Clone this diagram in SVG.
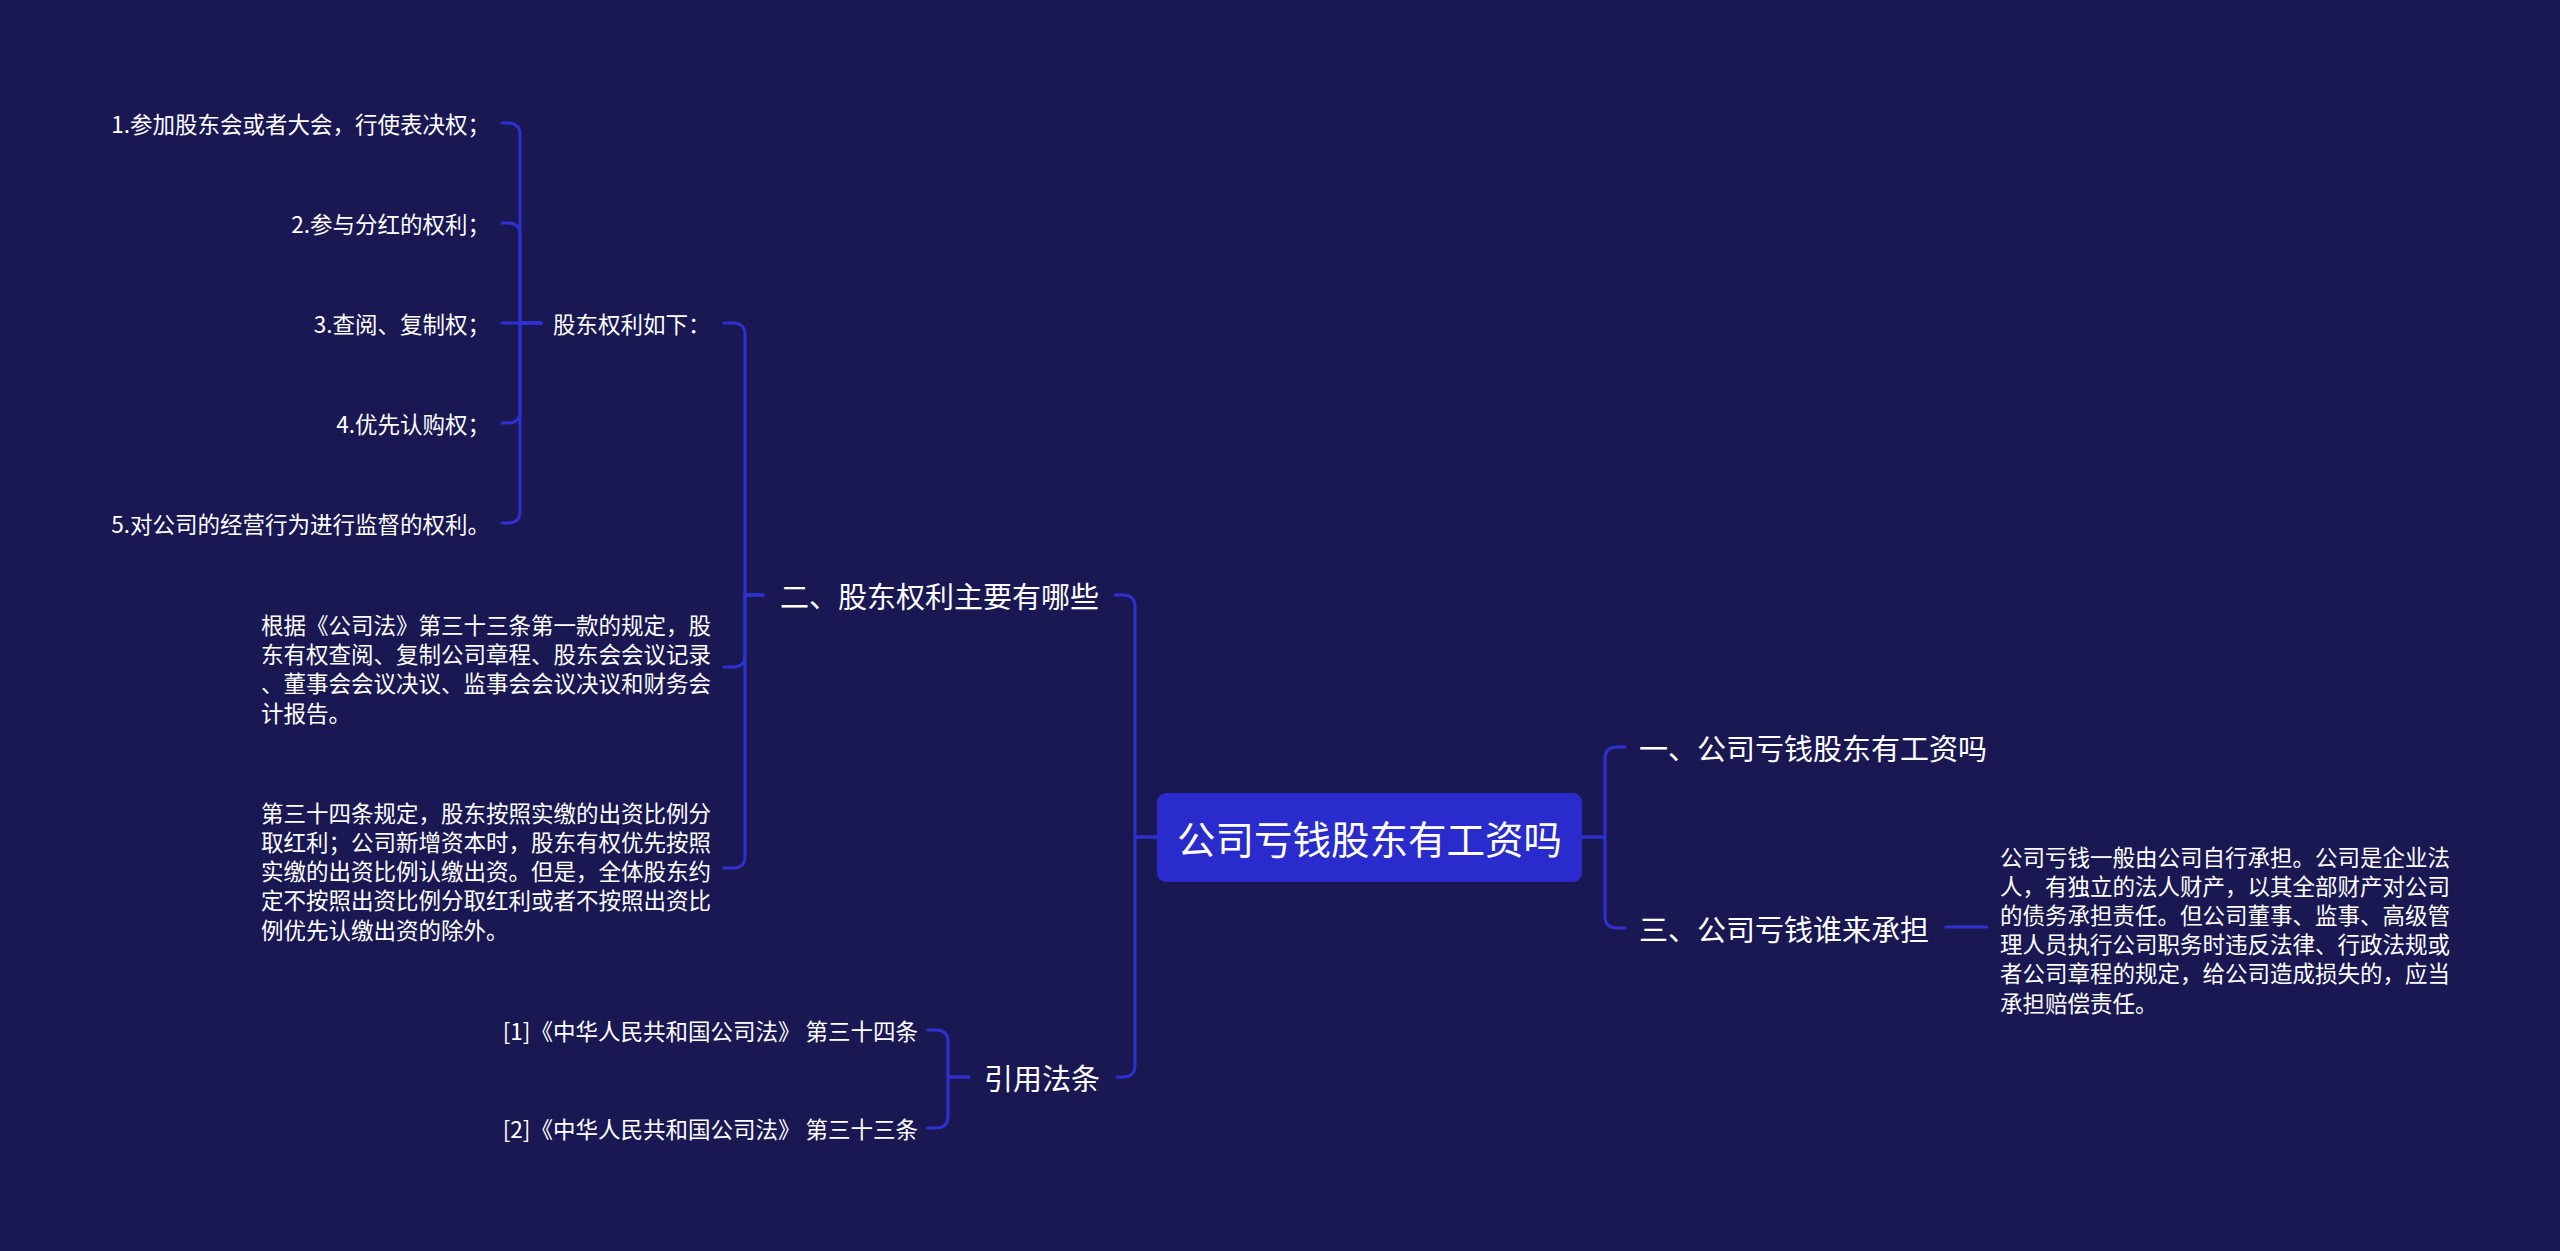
<svg xmlns="http://www.w3.org/2000/svg" width="2560" height="1251" viewBox="0 0 2560 1251">
<style>
  .bg{fill:#1a1852}
  .ln{fill:none;stroke:#2f30d0;stroke-width:3;stroke-linecap:round;stroke-linejoin:round}
  text{font-family:"Noto Sans CJK SC","Noto Sans",sans-serif;fill:#ffffff;dominant-baseline:central}
  .root{font-size:38.5px;text-anchor:middle}
  .t1{font-size:29px}
  .t2{font-size:22.5px}
  .end{text-anchor:end}
  .box{fill:#2a2bcc}
</style>
<rect class="bg" x="0" y="0" width="2560" height="1251"/>

<g id="connectors">
  <path class="ln" d="M1157 837 H1135 V607 Q1135 595 1123 595 H1115"/>
  <path class="ln" d="M1157 837 H1135 V1065 Q1135 1077 1123 1077 H1117"/>
  <path class="ln" d="M1582 837 H1605 V759 Q1605 747 1617 747 H1625"/>
  <path class="ln" d="M1582 837 H1605 V916 Q1605 928 1617 928 H1625"/>
  <path class="ln" d="M1946 927 H1987"/>
  <path class="ln" d="M763 595 H745 V335 Q745 323 733 323 H724"/>
  <path class="ln" d="M763 595 H745 V655 Q745 667 733 667 H724"/>
  <path class="ln" d="M763 595 H745 V856 Q745 868 733 868 H724"/>
  <path class="ln" d="M541 323 H520 V135 Q520 123 508 123 H502"/>
  <path class="ln" d="M541 323 H520 V235 Q520 223 508 223 H502"/>
  <path class="ln" d="M541 323 H502"/>
  <path class="ln" d="M541 323 H520 V411 Q520 423 508 423 H502"/>
  <path class="ln" d="M541 323 H520 V511 Q520 523 508 523 H502"/>
  <path class="ln" d="M969 1077 H948 V1042 Q948 1030 936 1030 H928"/>
  <path class="ln" d="M969 1077 H948 V1116 Q948 1128 936 1128 H928"/>
</g>

<g id="root">
  <rect class="box" x="1157" y="793" width="425" height="89" rx="9" ry="9"/>
  <text class="root" x="1369.5" y="837">公司亏钱股东有工资吗</text>
</g>

<g id="n-er">
  <text class="t1" x="780" y="595">二、股东权利主要有哪些</text>
</g>
<g id="n-yinyong">
  <text class="t1" x="984" y="1077">引用法条</text>
</g>
<g id="n-yi">
  <text class="t1" x="1639" y="747">一、公司亏钱股东有工资吗</text>
</g>
<g id="n-san">
  <text class="t1" x="1639" y="928">三、公司亏钱谁来承担</text>
</g>

<g id="n-rights">
  <text class="t2" x="553" y="323">股东权利如下：</text>
</g>
<g id="n-item1"><text class="t2 end" x="490" y="123">1.参加股东会或者大会，行使表决权；</text></g>
<g id="n-item2"><text class="t2 end" x="490" y="223">2.参与分红的权利；</text></g>
<g id="n-item3"><text class="t2 end" x="490" y="323">3.查阅、复制权；</text></g>
<g id="n-item4"><text class="t2 end" x="490" y="423">4.优先认购权；</text></g>
<g id="n-item5"><text class="t2 end" x="490" y="523">5.对公司的经营行为进行监督的权利。</text></g>

<g id="n-para1">
  <text class="t2" x="261" y="624">根据《公司法》第三十三条第一款的规定，股</text>
  <text class="t2" x="261" y="653">东有权查阅、复制公司章程、股东会会议记录</text>
  <text class="t2" x="261" y="682">、董事会会议决议、监事会会议决议和财务会</text>
  <text class="t2" x="261" y="712">计报告。</text>
</g>

<g id="n-para2">
  <text class="t2" x="261" y="812">第三十四条规定，股东按照实缴的出资比例分</text>
  <text class="t2" x="261" y="841">取红利；公司新增资本时，股东有权优先按照</text>
  <text class="t2" x="261" y="870">实缴的出资比例认缴出资。但是，全体股东约</text>
  <text class="t2" x="261" y="899">定不按照出资比例分取红利或者不按照出资比</text>
  <text class="t2" x="261" y="929">例优先认缴出资的除外。</text>
</g>

<g id="n-ref1"><text class="t2 end" x="918" y="1030">[1]《中华人民共和国公司法》 第三十四条</text></g>
<g id="n-ref2"><text class="t2 end" x="918" y="1128">[2]《中华人民共和国公司法》 第三十三条</text></g>

<g id="n-para3">
  <text class="t2" x="2000" y="856">公司亏钱一般由公司自行承担。公司是企业法</text>
  <text class="t2" x="2000" y="885">人，有独立的法人财产，以其全部财产对公司</text>
  <text class="t2" x="2000" y="914">的债务承担责任。但公司董事、监事、高级管</text>
  <text class="t2" x="2000" y="943">理人员执行公司职务时违反法律、行政法规或</text>
  <text class="t2" x="2000" y="972">者公司章程的规定，给公司造成损失的，应当</text>
  <text class="t2" x="2000" y="1002">承担赔偿责任。</text>
</g>
</svg>
